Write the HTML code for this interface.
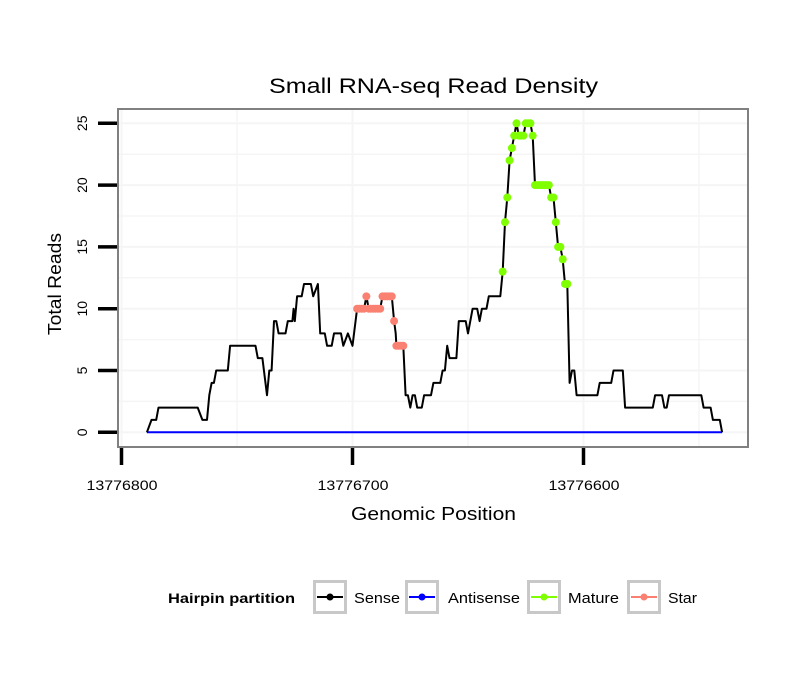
<!DOCTYPE html>
<html><head><meta charset="utf-8"><style>
body{margin:0;background:#fff;}
svg text{font-family:"Liberation Sans",sans-serif;}
</style></head><body>
<svg id="chart" width="810" height="690" viewBox="0 0 810 690" xmlns="http://www.w3.org/2000/svg">
<rect width="810" height="690" fill="#fff"/>
<text x="269" y="93" font-size="21" textLength="329" lengthAdjust="spacingAndGlyphs">Small RNA-seq Read Density</text>
<g id="grid"></g>
<g id="series"></g>
<rect x="118" y="109" width="630" height="338" fill="none" stroke="#808080" stroke-width="2"/>
<g id="axes"></g>
<text x="351" y="520" font-size="18" textLength="165" lengthAdjust="spacingAndGlyphs">Genomic Position</text>
<text transform="translate(61,284) rotate(-90)" font-size="18" text-anchor="middle" textLength="102" lengthAdjust="spacingAndGlyphs">Total Reads</text>
<g>
<text x="168" y="603" font-size="14" font-weight="bold" textLength="127" lengthAdjust="spacingAndGlyphs">Hairpin partition</text>
<g>
<rect x="314.5" y="581.5" width="31" height="31" fill="#fff" stroke="#c8c8c8" stroke-width="3"/>
<line x1="317" y1="597" x2="343" y2="597" stroke="#000" stroke-width="2"/><circle cx="330" cy="597" r="3.5" fill="#000"/>
<text x="354" y="603" font-size="15" textLength="46" lengthAdjust="spacingAndGlyphs">Sense</text></g>
<g>
<rect x="406.5" y="581.5" width="31" height="31" fill="#fff" stroke="#c8c8c8" stroke-width="3"/>
<line x1="409" y1="597" x2="435" y2="597" stroke="#0000ff" stroke-width="2"/><circle cx="422" cy="597" r="3.5" fill="#0000ff"/>
<text x="448" y="603" font-size="15" textLength="72" lengthAdjust="spacingAndGlyphs">Antisense</text></g>
<g>
<rect x="528.5" y="581.5" width="31" height="31" fill="#fff" stroke="#c8c8c8" stroke-width="3"/>
<line x1="531" y1="597" x2="557" y2="597" stroke="#7fff00" stroke-width="2"/><circle cx="544" cy="597" r="3.5" fill="#7fff00"/>
<text x="568" y="603" font-size="15" textLength="51" lengthAdjust="spacingAndGlyphs">Mature</text></g>
<g>
<rect x="628.5" y="581.5" width="31" height="31" fill="#fff" stroke="#c8c8c8" stroke-width="3"/>
<line x1="631" y1="597" x2="657" y2="597" stroke="#fa8072" stroke-width="2"/><circle cx="644" cy="597" r="3.5" fill="#fa8072"/>
<text x="668" y="603" font-size="15" textLength="29" lengthAdjust="spacingAndGlyphs">Star</text></g>
</g>
</svg>
<script>
const BASE = 13776800;
const offsets = [11,13,15,16,33,35,37,38,39,40,41,46,47,58,59,61,63,64,65,66,67,68,71,72,74,74.5,75,76,78,79,82,83,85,86,88,89,91,92,95,96,98,100,102,105,106,107,112,113,117,118,118.7,119,122,123,124,125,126,127,128,130,131,134,135,138,139,140,141,142,145,146,149,150,152,154,155,156,158,159,164,165,166,167,168,169,170,171,172,174,175,177,178,179,185,186,187,188,189,190,191,192,193,194,195,196,197,206,207,212,213,217,218,230,231,234,235,236,237,251,252,255,256,259,260];
const senseReads = [0,1,1,2,2,1,1,3,4,4,5,5,7,7,6,6,3,5,5,9,9,8,8,9,9,10,9,11,11,12,12,11,12,8,8,7,7,8,8,7,8,7,10,10,11,10,10,11,11,9,8,7,7,3,3,2,3,3,2,2,3,3,4,4,5,5,7,6,6,9,9,8,10,10,9,10,10,11,11,13,17,19,22,23,24,25,24,24,25,25,24,20,20,19,19,17,15,15,14,12,12,4,5,5,3,3,4,4,5,5,2,2,3,3,2,2,3,3,2,2,1,1,0];
const positions = offsets.map(d => BASE - d);
const starRange = [13776698, 13776678];
const matureRange = [13776635, 13776607];
const yTicks = [0,5,10,15,20,25];
const xTicks = [13776800,13776700,13776600];
const xTickLabels = ["13776800","13776700","13776600"];

const xS = p => 121.5 + (BASE - p) * 2.31;
const yS = v => 432.3 - v * 12.36;
const NS = "http://www.w3.org/2000/svg";
function mk(tag, attrs, parent){const e=document.createElementNS(NS,tag);for(const k in attrs)e.setAttribute(k,attrs[k]);parent.appendChild(e);return e;}
const grid=document.getElementById('grid'), series=document.getElementById('series'), axes=document.getElementById('axes');
mk('rect',{x:118,y:109,width:630,height:338,fill:'#fff'},grid);
for(let v=0; v<=27.5; v+=2.5){const y=yS(v); if(y<110||y>446)continue;
 const l=mk('line',{x1:119,x2:747,y1:y,y2:y,stroke:'#f5f5f5','stroke-width':v%5===0?2:1.5},grid);
 
 }
for(let p=13776850; p>=13776520; p-=50){const x=xS(p); if(x<119||x>747)continue;
 const l=mk('line',{x1:x,x2:x,y1:110,y2:446,stroke:'#f5f5f5','stroke-width':p%100===0?2:1.5},grid);
 
 }
const anti=mk('line',{x1:xS(positions[0]),x2:xS(positions[positions.length-1]),y1:yS(0),y2:yS(0),stroke:'#0000ff','stroke-width':2},series);


const pts=positions.map((p,i)=>xS(p).toFixed(1)+','+yS(senseReads[i]).toFixed(1)).join(' ');
const sl=mk('polyline',{points:pts,fill:'none',stroke:'#000','stroke-width':2,'stroke-linejoin':'round'},series);


function valAt(p){for(let i=0;i<positions.length-1;i++){const a=positions[i],b=positions[i+1];if(p<=a&&p>=b){const t=(a-p)/(a-b||1);return senseReads[i]+t*(senseReads[i+1]-senseReads[i]);}}return 0;}
function dots(range,color,name){for(let p=range[0];p>=range[1];p--){const c=mk('circle',{cx:xS(p),cy:yS(valAt(p)),r:4,fill:color},series);
 
 }}
dots(starRange,'#fa8072','star-point');
dots(matureRange,'#7fff00','mature-point');
yTicks.forEach(v=>{const y=yS(v);
 const t=mk('line',{x1:98,x2:117,y1:y,y2:y,stroke:'#000','stroke-width':3.5},axes);
 
 
 const tx=mk('text',{transform:`translate(87,${y}) rotate(-90)`,'font-size':14,'text-anchor':'middle'},axes);
 tx.textContent=String(v);
 
 });
xTicks.forEach((p,i)=>{const x=xS(p);
 const t=mk('line',{x1:x,x2:x,y1:448,y2:465,stroke:'#000','stroke-width':3.5},axes);
 
 
 const tx=mk('text',{x:x-35,y:490,'font-size':14,textLength:71,lengthAdjust:'spacingAndGlyphs'},axes);
 tx.textContent=xTickLabels[i];
 
 });
</script>
</body></html>
